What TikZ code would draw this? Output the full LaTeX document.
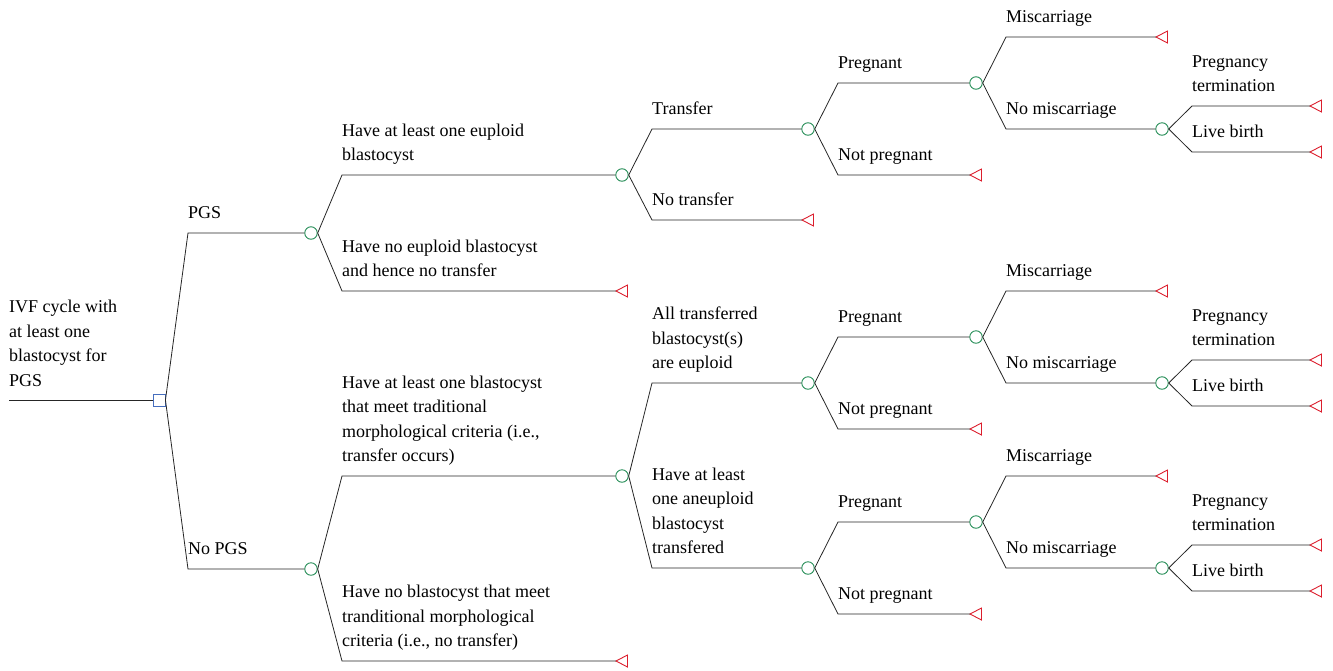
\documentclass[tikz,border=0pt]{standalone}
\usepackage{fontspec}
\setmainfont{Liberation Serif}
\definecolor{chgreen}{RGB}{35,140,85}
\definecolor{decblue}{RGB}{70,110,190}
\definecolor{termred}{RGB}{220,30,45}
\newcommand\stk[1]{\begin{tabular}[b]{@{}l@{}}#1\end{tabular}}
\newcommand\term[3]{\coordinate (#1) at (#2,{#3});
  \draw[termtri] (#1) -- ++(11.5,-6) -- ++(0,12) -- cycle;}
\newcommand\pregtree[2]{%
  \node[chance] (#1P) at (976,{#2-46}) {};
  \node[chance] (#1L) at (1162,{#2}) {};
  \term{#1N}{970}{#2+46}
  \term{#1M}{1156}{#2-92}
  \term{#1X}{1310}{#2-23}
  \term{#1Y}{1310}{#2+23}
  \draw[branch] (#1.east) -- (838,{#2-46}) -- (#1P.west);
  \draw[branch] (#1.east) -- (838,{#2+46}) -- (#1N);
  \draw[branch] (#1P.east) -- (1006,{#2-92}) -- (#1M);
  \draw[branch] (#1P.east) -- (1006,{#2}) -- (#1L.west);
  \draw[branch] (#1L.east) -- (1192,{#2-23}) -- (#1X);
  \draw[branch] (#1L.east) -- (1192,{#2+23}) -- (#1Y);
  \node[lbl] (#1lp) at (838,{#2-46-14.5}) {Pregnant};
  \node[lbl] (#1ln) at (838,{#2+46-14.5}) {Not pregnant};
  \node[lbl] (#1lm) at (1006,{#2-92-14.5}) {Miscarriage};
  \node[lbl] (#1lnm) at (1006,{#2-14.5}) {No miscarriage};
  \node[lbl] (#1lt) at (1192,{#2-23-14.5}) {\stk{Pregnancy\\termination}};
  \node[lbl] (#1lb) at (1192,{#2+23-14.5}) {Live birth};
}
\begin{document}
\begin{tikzpicture}[x=1pt,y=-1pt,
  chance/.style={circle,draw=chgreen,fill=white,minimum size=12.5pt,inner sep=0pt,line width=0.9pt},
  decision/.style={rectangle,draw=decblue,fill=white,minimum size=12pt,inner sep=0pt,line width=0.9pt},
  termtri/.style={draw=termred,line width=0.9pt,line join=miter},
  branch/.style={draw=black!85,line width=0.8pt},
  lbl/.style={anchor=base west,inner sep=0pt,font=\fontsize{18}{24.5}\selectfont}]
\useasboundingbox (0,0) rectangle (1333,670);

% decision node and root
\node[decision] (d0) at (159,400) {};
\coordinate (start) at (9,400);
\draw[branch] (start) -- (d0.west);
\node[lbl] (lroot) at (9,386) {\stk{IVF cycle with\\at least one\\blastocyst for\\PGS}};

% level 1
\node[chance] (cA) at (311,233) {};
\node[chance] (cB) at (311,569) {};
\draw[branch] (d0.east) -- (188,233) -- (cA.west);
\draw[branch] (d0.east) -- (188,569) -- (cB.west);
\node[lbl] (lpgs) at (188,218.5) {PGS};
\node[lbl] (lnopgs) at (188,554.5) {No PGS};

% level 2
\node[chance] (cA1) at (622,175) {};
\node[chance] (cB1) at (622,476) {};
\term{tA2}{616}{291}
\term{tB2}{616}{661}
\draw[branch] (cA.east) -- (342,175) -- (cA1.west);
\draw[branch] (cA.east) -- (342,291) -- (tA2);
\draw[branch] (cB.east) -- (342,476) -- (cB1.west);
\draw[branch] (cB.east) -- (342,661) -- (tB2);
\node[lbl] (l2a) at (342,160.5) {\stk{Have at least one euploid\\blastocyst}};
\node[lbl] (l2b) at (342,276.5) {\stk{Have no euploid blastocyst\\and hence no transfer}};
\node[lbl] (l2c) at (342,461.5) {\stk{Have at least one blastocyst\\that meet traditional\\morphological criteria (i.e.,\\transfer occurs)}};
\node[lbl] (l2d) at (342,646.5) {\stk{Have no blastocyst that meet\\tranditional morphological\\criteria (i.e., no transfer)}};

% level 3
\node[chance] (cT) at (808,129) {};
\node[chance] (cE) at (808,383) {};
\node[chance] (cN) at (808,568) {};
\term{tT2}{802}{220}
\draw[branch] (cA1.east) -- (652,129) -- (cT.west);
\draw[branch] (cA1.east) -- (652,220) -- (tT2);
\draw[branch] (cB1.east) -- (652,383) -- (cE.west);
\draw[branch] (cB1.east) -- (652,568) -- (cN.west);
\node[lbl] (l3a) at (652,114.5) {Transfer};
\node[lbl] (l3b) at (652,205.5) {No transfer};
\node[lbl] (l3c) at (652,368.5) {\stk{All transferred\\blastocyst(s)\\are euploid}};
\node[lbl] (l3d) at (652,553.5) {\stk{Have at least\\one aneuploid\\blastocyst\\transfered}};

% levels 4-6
\pregtree{cT}{129}
\pregtree{cE}{383}
\pregtree{cN}{568}
\end{tikzpicture}
\end{document}
